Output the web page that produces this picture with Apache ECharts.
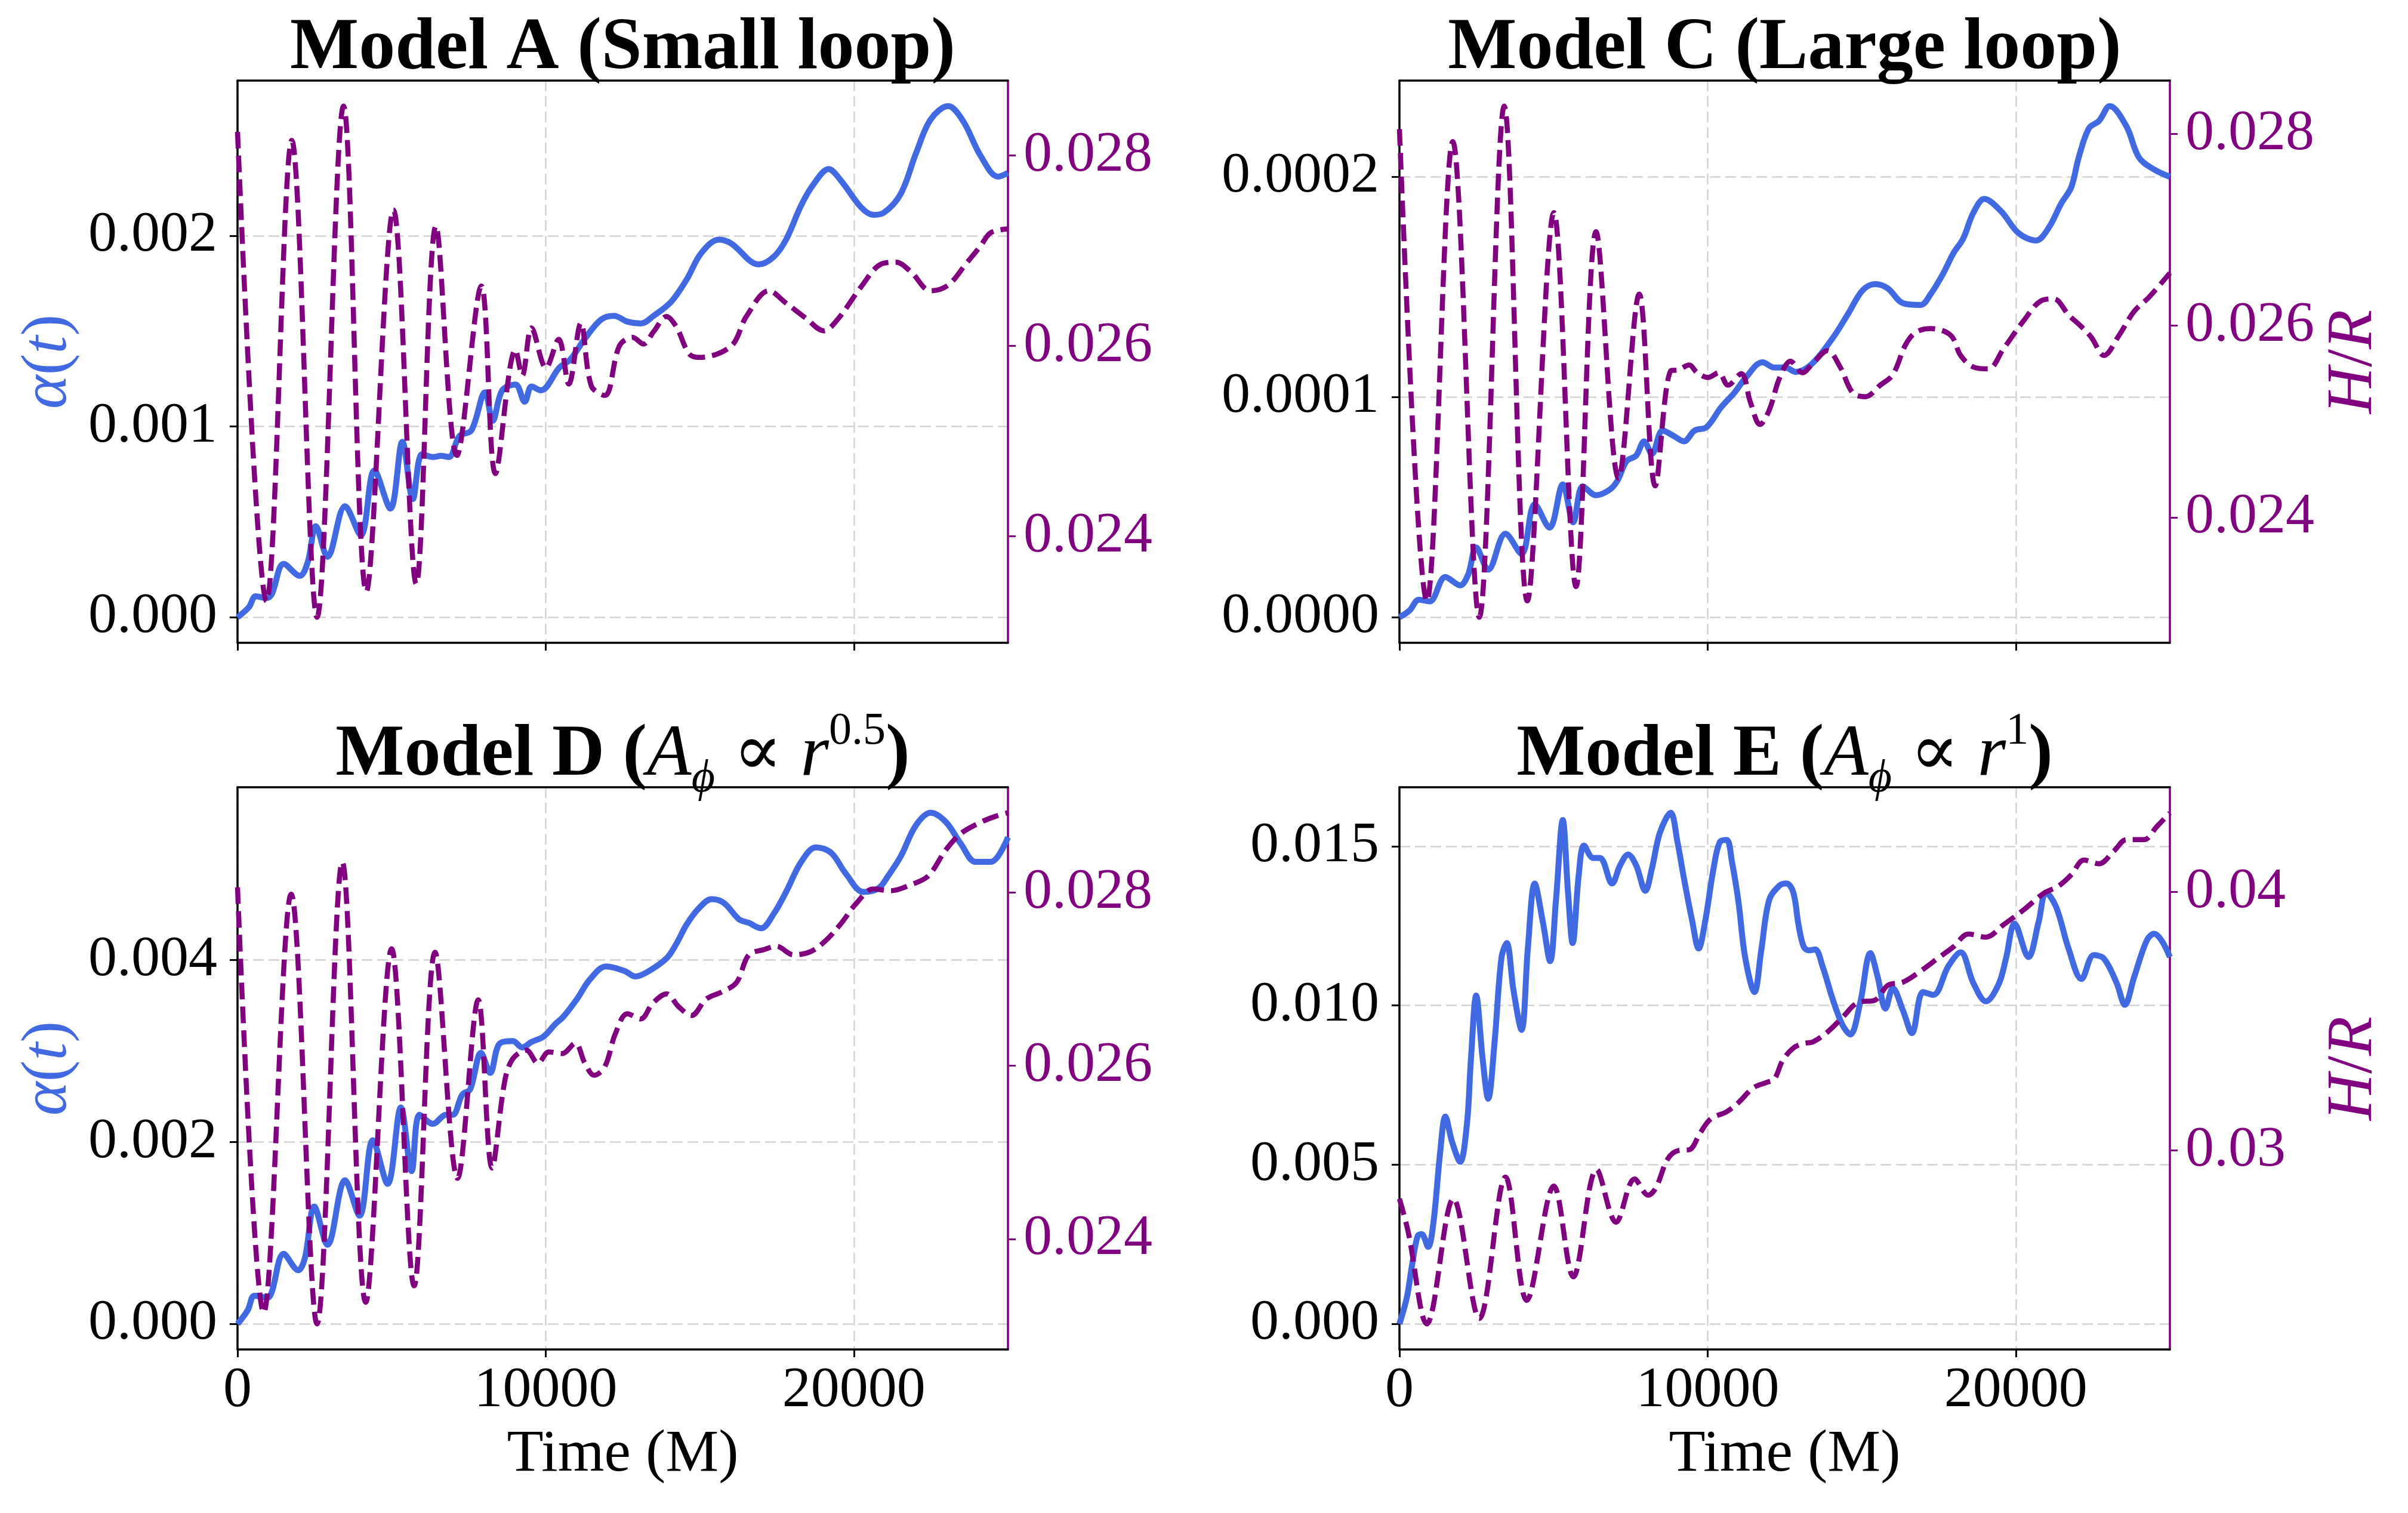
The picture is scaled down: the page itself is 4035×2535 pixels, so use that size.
<!DOCTYPE html>
<html>
<head>
<meta charset="utf-8">
<script src="https://cdn.jsdelivr.net/npm/echarts@6/dist/echarts.min.js"></script>
<style>
    html, body { margin: 0; padding: 0; background: #ffffff; }
    #chart { width: 4035px; height: 2535px; }
</style>
</head>
<body>
<div id="chart"></div>
<script>
// Model A (Small loop)
const timeAlphaA = [0, 370, 590, 940, 1110, 1500, 2020, 2280, 2540, 2920, 3490, 4000, 4440, 4960, 5350, 5690, 5990, 6340, 6600, 6860, 7200, 7590, 8030, 8280, 8590, 9020, 9320, 9540, 9840, 10450, 10790, 11270, 11790, 12220, 12650, 13080, 13500, 14080, 14570, 15050, 15620, 16020, 16910, 17400, 17800, 18290, 18690, 19180, 19580, 20230, 20630, 20960, 21520, 22010, 22490, 23060, 23550, 24110, 24680, 25000];
const alphaA = [0, 0.000053, 0.00011, 0.0001, 0.00012, 0.00028, 0.000217, 0.00029, 0.000478, 0.000317, 0.000582, 0.00043, 0.00077, 0.00057, 0.00092, 0.00062, 0.000855, 0.00084, 0.000846, 0.00084, 0.00095, 0.00098, 0.00118, 0.00103, 0.00119, 0.00122, 0.00113, 0.00121, 0.00119, 0.00131, 0.00135, 0.00146, 0.00156, 0.00158, 0.00155, 0.00154, 0.00158, 0.001656, 0.00177, 0.00191, 0.00198, 0.00196, 0.00185, 0.00189, 0.00198, 0.00216, 0.00227, 0.00235, 0.00229, 0.00215, 0.00211, 0.00212, 0.00222, 0.00243, 0.00261, 0.00268, 0.0026, 0.00242, 0.00231, 0.00233];
const timeHrA = [0, 940, 1760, 2580, 3440, 4180, 5060, 5800, 6440, 7120, 7910, 8370, 9020, 9240, 9540, 10010, 10420, 10750, 11140, 11480, 11920, 12390, 12820, 13170, 13500, 13920, 14240, 14650, 14970, 16020, 16510, 17240, 17800, 18450, 19020, 19500, 20230, 20880, 21360, 21850, 22490, 23060, 23630, 24110, 24440, 25000];
const hrA = [0.02825, 0.02332, 0.02816, 0.02315, 0.02852, 0.02342, 0.02743, 0.0235, 0.02726, 0.02485, 0.02663, 0.02466, 0.02596, 0.02569, 0.02619, 0.02577, 0.02607, 0.0256, 0.02624, 0.02558, 0.02548, 0.026, 0.02609, 0.02602, 0.02615, 0.02631, 0.0262, 0.02592, 0.02588, 0.026, 0.02631, 0.02658, 0.02645, 0.02629, 0.02616, 0.02629, 0.02662, 0.02686, 0.02688, 0.02678, 0.02658, 0.02664, 0.02686, 0.02705, 0.02719, 0.02723];

// Model C (Large loop)
const timeAlphaC = [0, 330, 630, 980, 1490, 1970, 2230, 2490, 2880, 3440, 3960, 4390, 4870, 5300, 5640, 5950, 6380, 6810, 7070, 7370, 7680, 7940, 8190, 8540, 8890, 9230, 9580, 9970, 10440, 10870, 11220, 11780, 12170, 12520, 12860, 13380, 14060, 14550, 15030, 15440, 15850, 16340, 16910, 17240, 17640, 17970, 18290, 18620, 18980, 19520, 20090, 20660, 21070, 21470, 21800, 22040, 22370, 22700, 23050, 23590, 24000, 24490, 25000];
const alphaC = [0, 3.1e-6, 8.0e-6, 7.2e-6, 1.83e-5, 1.45e-5, 1.94e-5, 3.17e-5, 2.16e-5, 3.79e-5, 2.88e-5, 5.13e-5, 4.07e-5, 6.03e-5, 4.31e-5, 5.95e-5, 5.54e-5, 5.78e-5, 6.19e-5, 7.09e-5, 7.34e-5, 7.99e-5, 7.42e-5, 8.48e-5, 8.24e-5, 7.99e-5, 8.48e-5, 8.64e-5, 9.54e-5, 1.02e-4, 1.085e-4, 1.158e-4, 1.134e-4, 1.134e-4, 1.114e-4, 1.15e-4, 1.268e-4, 1.376e-4, 1.485e-4, 1.513e-4, 1.493e-4, 1.426e-4, 1.418e-4, 1.468e-4, 1.56e-4, 1.652e-4, 1.719e-4, 1.836e-4, 1.9e-4, 1.844e-4, 1.744e-4, 1.711e-4, 1.769e-4, 1.878e-4, 1.953e-4, 2.087e-4, 2.22e-4, 2.254e-4, 2.321e-4, 2.229e-4, 2.087e-4, 2.033e-4, 2.0e-4];
const timeHrC = [0, 890, 1730, 2590, 3400, 4150, 5010, 5730, 6380, 7110, 7780, 8300, 8800, 9060, 9400, 9660, 10010, 10360, 10660, 11090, 11390, 11700, 12000, 12340, 12690, 13080, 13420, 13890, 14300, 14710, 15120, 15600, 16010, 16420, 16750, 17240, 17890, 18210, 18620, 19110, 19600, 20250, 20820, 21230, 21720, 22130, 22450, 22860, 23350, 23840, 24330, 25000];
const hrC = [0.02805, 0.02313, 0.02792, 0.02296, 0.02829, 0.02313, 0.02718, 0.02328, 0.02698, 0.02441, 0.02633, 0.02433, 0.02553, 0.02554, 0.02559, 0.02551, 0.02546, 0.02551, 0.02538, 0.0255, 0.0252, 0.02497, 0.02512, 0.02546, 0.02563, 0.02551, 0.02561, 0.02574, 0.02557, 0.0253, 0.02526, 0.02538, 0.02549, 0.0258, 0.02593, 0.02597, 0.0259, 0.02569, 0.02557, 0.02555, 0.02576, 0.02605, 0.02626, 0.02628, 0.02611, 0.02599, 0.02588, 0.02569, 0.0259, 0.02615, 0.0263, 0.02655];

// Model D (A_phi ~ r^0.5)
const timeAlphaD = [0, 330, 550, 980, 1110, 1500, 1970, 2190, 2490, 2920, 3490, 3960, 4390, 4870, 5300, 5650, 5910, 6340, 6770, 6990, 7290, 7550, 7900, 8200, 8500, 8930, 9240, 9540, 9930, 10320, 10580, 11010, 11440, 11960, 12560, 12910, 13300, 13920, 14240, 14570, 14970, 15380, 15780, 16270, 16590, 16990, 17400, 17800, 18290, 18770, 19260, 19740, 20310, 20800, 21120, 21520, 22010, 22490, 22980, 23470, 23950, 24440, 25000];
const alphaD = [0, 0.00015, 0.00031, 0.00029, 0.00035, 0.00077, 0.00059, 0.00073, 0.00129, 0.00087, 0.00158, 0.00119, 0.00202, 0.00154, 0.00238, 0.00168, 0.0023, 0.0022, 0.0023, 0.0023, 0.00252, 0.00258, 0.00298, 0.00276, 0.00308, 0.00311, 0.00304, 0.0031, 0.00316, 0.0033, 0.00338, 0.00357, 0.00379, 0.00393, 0.00388, 0.00382, 0.00387, 0.00402, 0.00418, 0.00439, 0.00457, 0.00467, 0.00463, 0.00445, 0.00441, 0.00435, 0.00451, 0.00475, 0.00508, 0.00524, 0.00518, 0.00495, 0.00475, 0.00479, 0.00493, 0.00514, 0.00548, 0.00562, 0.00552, 0.00528, 0.00508, 0.00508, 0.00535];
const timeHrD = [0, 850, 1740, 2580, 3400, 4160, 5000, 5730, 6410, 7140, 7810, 8260, 8670, 8930, 9370, 9750, 10100, 10530, 10960, 11270, 11570, 11920, 12260, 12650, 13080, 13470, 13920, 14320, 14730, 15210, 15700, 16190, 16590, 17080, 17480, 18050, 18610, 19100, 19580, 20070, 20630, 21200, 21850, 22410, 22980, 23470, 24110, 24600, 25000];
const hrD = [0.02806, 0.02315, 0.02798, 0.02302, 0.02835, 0.02327, 0.02735, 0.02346, 0.02731, 0.0247, 0.02676, 0.02482, 0.02582, 0.02608, 0.02618, 0.02603, 0.02616, 0.02614, 0.02626, 0.02603, 0.02589, 0.02599, 0.02637, 0.0266, 0.02654, 0.02672, 0.02683, 0.02668, 0.02658, 0.02677, 0.02685, 0.02696, 0.02728, 0.02734, 0.02738, 0.02728, 0.02732, 0.02745, 0.02764, 0.02787, 0.02804, 0.02802, 0.02809, 0.02819, 0.02849, 0.02868, 0.02881, 0.02888, 0.02892];

// Model E (A_phi ~ r^1)
const timeAlphaE = [0, 240, 410, 590, 720, 930, 1100, 1320, 1490, 1710, 1970, 2190, 2320, 2490, 2700, 2880, 3090, 3310, 3480, 3700, 3960, 4170, 4390, 4650, 4890, 5080, 5300, 5470, 5620, 5820, 5990, 6290, 6510, 6900, 7160, 7420, 7680, 7980, 8190, 8450, 8800, 9020, 9230, 9490, 9710, 9920, 10180, 10400, 10620, 10790, 11000, 11220, 11520, 11740, 12000, 12340, 12560, 12780, 12950, 13120, 13300, 13490, 13730, 14060, 14380, 14630, 14950, 15280, 15520, 15770, 16010, 16340, 16630, 16990, 17320, 17810, 18210, 18620, 19030, 19440, 19680, 19960, 20410, 20740, 20980, 21310, 21720, 22130, 22530, 22860, 23270, 23540, 23840, 24250, 24490, 24730, 25000];
const alphaE = [0, 0.00083, 0.00185, 0.00276, 0.00282, 0.00242, 0.00316, 0.00537, 0.00651, 0.00571, 0.00509, 0.00628, 0.00832, 0.01031, 0.00832, 0.00707, 0.00889, 0.0115, 0.01196, 0.01048, 0.00923, 0.01184, 0.01383, 0.01264, 0.01139, 0.01332, 0.01582, 0.01355, 0.01196, 0.01412, 0.01502, 0.01463, 0.01463, 0.01383, 0.0144, 0.01474, 0.0144, 0.0136, 0.01429, 0.01542, 0.01605, 0.01514, 0.014, 0.0127, 0.01179, 0.01264, 0.01423, 0.01514, 0.0152, 0.01451, 0.01326, 0.0115, 0.01042, 0.01173, 0.01332, 0.01377, 0.01383, 0.01355, 0.01253, 0.01184, 0.01173, 0.01176, 0.01123, 0.01019, 0.00938, 0.00909, 0.01008, 0.01164, 0.01089, 0.0099, 0.01054, 0.00984, 0.00913, 0.01042, 0.01033, 0.01123, 0.01167, 0.01071, 0.01013, 0.01066, 0.01147, 0.01257, 0.01152, 0.01262, 0.01355, 0.01309, 0.01176, 0.01083, 0.01158, 0.01147, 0.01071, 0.01002, 0.01089, 0.01204, 0.01225, 0.01204, 0.01152];
const timeHrE = [0, 280, 890, 1750, 2590, 3440, 4130, 5010, 5640, 6400, 7030, 7630, 8070, 8320, 8710, 9060, 9410, 9750, 10100, 10620, 11000, 11480, 11910, 12170, 12430, 12780, 13120, 13420, 13890, 14380, 14870, 15440, 15850, 16340, 16830, 17480, 17970, 18460, 19030, 19600, 20250, 20900, 21390, 21800, 22210, 22700, 23190, 23590, 24160, 24570, 25000];
const hrE = [0.02813, 0.02687, 0.02329, 0.02813, 0.0235, 0.02897, 0.0242, 0.02862, 0.02511, 0.02926, 0.02722, 0.0289, 0.02827, 0.02855, 0.02968, 0.03, 0.03003, 0.03066, 0.03122, 0.0315, 0.03185, 0.03242, 0.03263, 0.03277, 0.03347, 0.03396, 0.03414, 0.0342, 0.03458, 0.03515, 0.03572, 0.03582, 0.03639, 0.03651, 0.03687, 0.03744, 0.03787, 0.03837, 0.03825, 0.03873, 0.0393, 0.03994, 0.04023, 0.04066, 0.04123, 0.04109, 0.04159, 0.04202, 0.04202, 0.04252, 0.04306];

// tick labels
const timeTicks = [0, 10000, 20000];
const alphaTicksA = [0, 0.001, 0.002];
const alphaTicksC = [0, 0.0001, 0.0002];
const alphaTicksD = [0, 0.002, 0.004];
const alphaTicksE = [0, 0.005, 0.010, 0.015];
const hrTicksABD = [0.024, 0.026, 0.028];
const hrTicksE = [0.03, 0.04];

const BLUE = '#4169E1';
const PURPLE = '#800080';
const FONT = "'Liberation Serif', 'DejaVu Serif', serif";

document.addEventListener('DOMContentLoaded', function () {
    initChart();
});

function zip(ts, vs) {
    return ts.map((t, i) => [t, vs[i]]);
}

// matplotlib-like 5% data margin
function paddedRange(vs) {
    const lo = Math.min(...vs);
    const hi = Math.max(...vs);
    const pad = (hi - lo) * 0.05;
    return [lo - pad, hi + pad];
}

function initChart() {
    const chart = echarts.init(document.getElementById('chart'), null, { renderer: 'canvas' });

    const panels = [
        { left: 398, top: 135, title: '{b|Model A (Small loop)}', tA: timeAlphaA, a: alphaA, tH: timeHrA, h: hrA,
          aTicks: alphaTicksA, aDec: 3, hTicks: hrTicksABD, hDec: 3, alphaName: true, hrName: false, bottom: false },
        { left: 2345, top: 135, title: '{b|Model C (Large loop)}', tA: timeAlphaC, a: alphaC, tH: timeHrC, h: hrC,
          aTicks: alphaTicksC, aDec: 4, hTicks: hrTicksABD, hDec: 3, alphaName: false, hrName: true, bottom: false },
        { left: 398, top: 1319, title: '{b|Model D (}{it|A}{sub|ϕ}{m| ∝ }{it|r}{sup|0.5}{b|)}', tA: timeAlphaD, a: alphaD, tH: timeHrD, h: hrD,
          aTicks: alphaTicksD, aDec: 3, hTicks: hrTicksABD, hDec: 3, alphaName: true, hrName: false, bottom: true },
        { left: 2345, top: 1319, title: '{b|Model E (}{it|A}{sub|ϕ}{m| ∝ }{it|r}{sup|1}{b|)}', tA: timeAlphaE, a: alphaE, tH: timeHrE, h: hrE,
          aTicks: alphaTicksE, aDec: 3, hTicks: hrTicksE, hDec: 2, alphaName: false, hrName: true, bottom: true }
    ];
    const W = 1291;
    const H = 942;

    const grid = [], xAxis = [], yAxis = [], series = [], graphic = [];

    const gridLine = { show: true, lineStyle: { color: '#d2d2d2', width: 2.5, type: [18, 8] } };
    const titleRich = {
        b: { fontFamily: FONT, fontSize: 122, fontWeight: 'bold', color: '#000', lineHeight: 156 },
        it: { fontFamily: FONT, fontSize: 122, fontStyle: 'italic', color: '#000', lineHeight: 156 },
        m: { fontFamily: FONT, fontSize: 122, color: '#000', lineHeight: 156 },
        sup: { fontFamily: FONT, fontSize: 76, color: '#000', verticalAlign: 'top', lineHeight: 104 },
        sub: { fontFamily: FONT, fontSize: 76, fontStyle: 'italic', color: '#000', verticalAlign: 'bottom', lineHeight: 62 }
    };

    panels.forEach((p, i) => {
        grid.push({ left: p.left, top: p.top, width: W, height: H, outerBoundsMode: 'none', containLabel: false });

        // bottom time axis
        xAxis.push({
            type: 'value', gridIndex: i, min: 0, max: 25000,
            axisLine: { show: true, onZero: false, lineStyle: { color: '#000', width: 3.5 } },
            axisTick: { show: true, length: 13, lineStyle: { color: '#000', width: 3 }, customValues: timeTicks },
            axisLabel: { show: p.bottom, customValues: timeTicks, margin: 22, fontFamily: FONT, fontSize: 96, color: '#000',
                formatter: v => String(v) },
            splitLine: gridLine,
            name: p.bottom ? 'Time (M)' : '', nameLocation: 'middle', nameGap: 127,
            nameTextStyle: { fontFamily: FONT, fontSize: 100, color: '#000' }
        });
        // top spine
        xAxis.push({
            type: 'value', gridIndex: i, position: 'top', min: 0, max: 25000,
            axisLine: { show: true, onZero: false, lineStyle: { color: '#000', width: 3.5 } },
            axisTick: { show: false }, axisLabel: { show: false }, splitLine: { show: false }
        });

        const aRange = paddedRange(p.a);
        const hRange = paddedRange(p.h);
        yAxis.push({
            type: 'value', gridIndex: i, position: 'left', min: aRange[0], max: aRange[1],
            axisLine: { show: true, onZero: false, lineStyle: { color: '#000', width: 3.5 } },
            axisTick: { show: true, length: 13, lineStyle: { color: '#000', width: 3 }, customValues: p.aTicks },
            axisLabel: { customValues: p.aTicks, margin: 34, fontFamily: FONT, fontSize: 96, color: '#000',
                formatter: v => Number(v).toFixed(p.aDec) },
            splitLine: gridLine,
            name: p.alphaName ? '{i|α}{n|(}{i|t}{n|)}' : '', nameLocation: 'middle', nameGap: 262,
            nameTextStyle: { rich: {
                i: { fontFamily: FONT, fontSize: 108, fontStyle: 'italic', color: BLUE },
                n: { fontFamily: FONT, fontSize: 108, color: BLUE }
            } }
        });
        yAxis.push({
            type: 'value', gridIndex: i, position: 'right', min: hRange[0], max: hRange[1],
            axisLine: { show: true, onZero: false, lineStyle: { color: PURPLE, width: 3.5 } },
            axisTick: { show: true, length: 13, lineStyle: { color: PURPLE, width: 3 }, customValues: p.hTicks },
            axisLabel: { customValues: p.hTicks, margin: 26, fontFamily: FONT, fontSize: 96, color: PURPLE,
                formatter: v => Number(v).toFixed(p.hDec) },
            splitLine: { show: false },
            name: p.hrName ? '{i|H}{n|/}{i|R}' : '', nameLocation: 'middle', nameGap: 255,
            nameTextStyle: { rich: {
                i: { fontFamily: FONT, fontSize: 108, fontStyle: 'italic', color: PURPLE },
                n: { fontFamily: FONT, fontSize: 108, color: PURPLE }
            } }
        });

        series.push({
            type: 'line', xAxisIndex: i * 2, yAxisIndex: i * 2, data: zip(p.tA, p.a),
            showSymbol: false, smooth: 0.35, z: 2,
            lineStyle: { color: BLUE, width: 10 }
        });
        series.push({
            type: 'line', xAxisIndex: i * 2, yAxisIndex: i * 2 + 1, data: zip(p.tH, p.h),
            showSymbol: false, smooth: 0.35, z: 3,
            lineStyle: { color: PURPLE, width: 8.5, type: [28, 12] }
        });

        graphic.push({
            type: 'text', x: p.left + W / 2, y: p.top - 53,
            style: { text: p.title, rich: titleRich, align: 'center', verticalAlign: 'middle' }
        });
    });

    chart.setOption({
        animation: false,
        backgroundColor: '#ffffff',
        grid: grid,
        xAxis: xAxis,
        yAxis: yAxis,
        series: series,
        graphic: graphic
    });
    window.addEventListener('resize', () => chart.resize());
}
</script>
</body>
</html>
